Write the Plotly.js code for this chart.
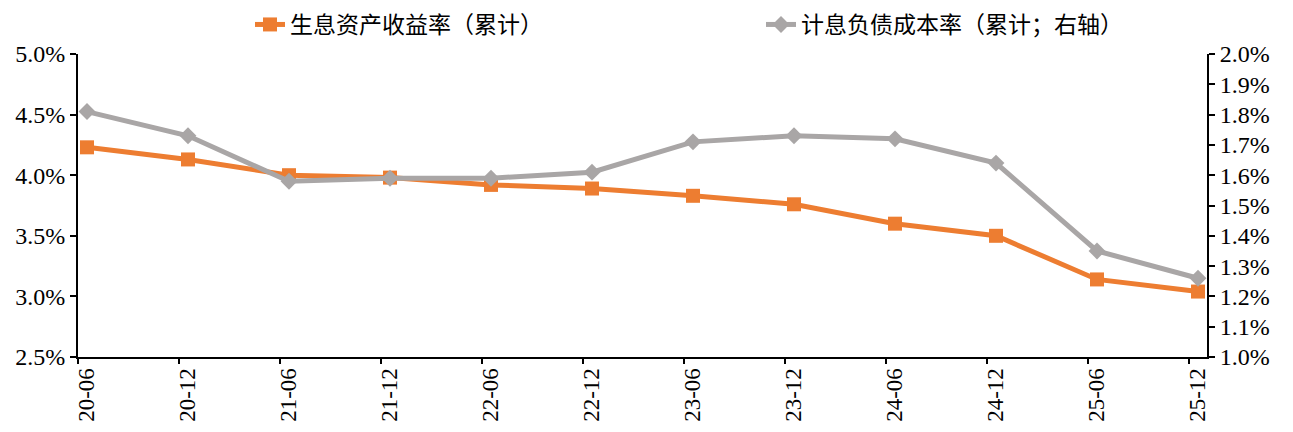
<!DOCTYPE html>
<html>
<head>
<meta charset="utf-8">
<script src="https://cdn.plot.ly/plotly-3.0.1.min.js"></script>
<style>html,body{margin:0;padding:0;background:#fff;}#chart{width:1293px;height:432px;}</style>
</head>
<body>
<div id="chart"></div>
<script>
var categories = ["20-06","20-12","21-06","21-12","22-06","22-12","23-06","23-12","24-06","24-12","25-06","25-12"];
var assetYield = [4.23, 4.13, 4.00, 3.98, 3.92, 3.89, 3.83, 3.76, 3.60, 3.50, 3.14, 3.04];
var liabilityCost = [1.81, 1.73, 1.58, 1.59, 1.59, 1.61, 1.71, 1.73, 1.72, 1.64, 1.35, 1.26];
var leftTicks = [2.5, 3.0, 3.5, 4.0, 4.5, 5.0];
var rightTicks = [1.0, 1.1, 1.2, 1.3, 1.4, 1.5, 1.6, 1.7, 1.8, 1.9, 2.0];
var name1 = "生息资产收益率（累计）";
var name2 = "计息负债成本率（累计；右轴）";

var idx = categories.map(function(c, i){ return i; });
var tickShift = idx.map(function(i){ return i - 0.09; });
var xr = [-0.089, categories.length - 1 + 0.089];

var serif = "Liberation Serif, Times New Roman, serif";
var cjk = "Noto Sans CJK SC, sans-serif";

var traces = [
  {
    x: idx, y: assetYield, name: name1, type: "scatter", mode: "lines+markers",
    line: {color: "#ED7D31", width: 5},
    marker: {symbol: "square", size: 14, color: "#ED7D31"},
    xaxis: "x", yaxis: "y"
  },
  {
    x: idx, y: liabilityCost, name: name2, type: "scatter", mode: "lines+markers",
    line: {color: "#A9A6A6", width: 5},
    marker: {symbol: "diamond", size: 13, color: "#A9A6A6"},
    xaxis: "x", yaxis: "y2"
  },
  {
    x: [], y: [], type: "scatter", mode: "lines", showlegend: false, hoverinfo: "skip",
    xaxis: "x2", yaxis: "y"
  }
];

var layout = {
  width: 1293, height: 432,
  margin: {l: 78, r: 86, t: 54, b: 75},
  paper_bgcolor: "#fff", plot_bgcolor: "#fff",
  showlegend: true,
  legend: {
    orientation: "h", xref: "container", yref: "container",
    x: 250/1293, xanchor: "left", y: 1 - 3/432, yanchor: "top",
    font: {family: cjk, size: 23, color: "#000"},
    entrywidth: 466, entrywidthmode: "pixels",
    traceorder: "normal"
  },
  xaxis: {
    type: "linear", range: xr, tickmode: "array", tickvals: idx, ticktext: categories,
    tickangle: -90, ticks: "", showgrid: false, zeroline: false,
    showline: true, linecolor: "#000", linewidth: 2,
    tickfont: {family: serif, size: 23, color: "#000"},
    anchor: "y", fixedrange: true
  },
  xaxis2: {
    type: "linear", range: xr, overlaying: "x", anchor: "y", side: "bottom",
    tickmode: "array", tickvals: tickShift, ticktext: tickShift.map(function(){return "";}),
    ticks: "outside", ticklen: 6, tickwidth: 2, tickcolor: "#000",
    showgrid: false, zeroline: false, showline: false, showticklabels: false
  },
  yaxis: {
    range: [2.5, 5.0], tickmode: "array", tickvals: leftTicks,
    ticktext: leftTicks.map(function(v){ return v.toFixed(1) + "%"; }),
    ticks: "outside", ticklen: 6, tickwidth: 2, tickcolor: "#000",
    showline: true, linecolor: "#000", linewidth: 2,
    showgrid: false, zeroline: false,
    tickfont: {family: serif, size: 24, color: "#000"}
  },
  yaxis2: {
    range: [1.0, 2.0], overlaying: "y", side: "right", anchor: "x",
    tickmode: "array", tickvals: rightTicks,
    ticktext: rightTicks.map(function(v){ return v.toFixed(1) + "%"; }),
    ticks: "outside", ticklen: 6, tickwidth: 2, tickcolor: "#000",
    showline: true, linecolor: "#000", linewidth: 2,
    showgrid: false, zeroline: false,
    tickfont: {family: serif, size: 24, color: "#000"}
  }
};

Plotly.newPlot("chart", traces, layout, {displayModeBar: false, staticPlot: true});
</script>
</body>
</html>
